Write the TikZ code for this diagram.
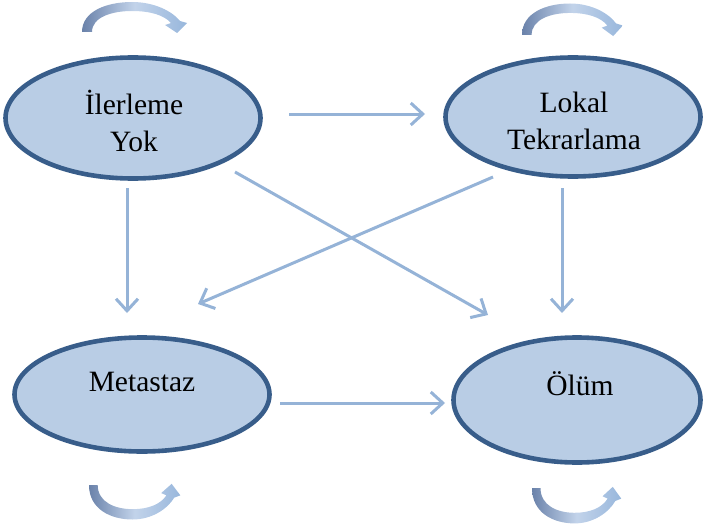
\documentclass[tikz,border=0pt]{standalone}
\usepackage{fontspec}
\setmainfont{Liberation Serif}
\usetikzlibrary{shapes.geometric,arrows.meta}
\definecolor{efill}{HTML}{B9CDE5}
\definecolor{edraw}{HTML}{385D8A}
\definecolor{arr}{HTML}{95B3D7}
\definecolor{cdark}{HTML}{6A82AA}
\definecolor{clight}{HTML}{98B7DC}
\definecolor{chigh}{HTML}{C2D3EA}
\begin{document}
\begin{tikzpicture}[x=1pt,y=-1pt,
  stnode/.style={ellipse, draw=edraw, fill=efill, line width=4.6pt, inner sep=0pt},
  lbl/.style={font=\fontsize{29.5}{37}\selectfont, align=center, inner sep=0pt},
  conn/.style={draw=arr, line width=3pt, -{Straight Barb[length=12pt,width=22pt]}},
  selfloop/.pic={
    \shade[left color=cdark, right color=clight, middle color=chigh]
      (0,0) .. controls (0,21) and (25,30) .. (50,30)
      .. controls (72,30) and (90,21) .. (98,11)
      -- (105,9) -- (95,-1) -- (83,7) -- (89,9)
      .. controls (82,17) and (68,21) .. (50,21)
      .. controls (30,21) and (10,15) .. (10,0) -- cycle;
  }
]
\useasboundingbox (0,0) rectangle (704,527);

% states
\node[stnode, minimum width=255pt, minimum height=121pt] (a) at (133,118) {};
\node[stnode, minimum width=255pt, minimum height=119pt] (b) at (573,117) {};
\node[stnode, minimum width=255pt, minimum height=114pt] (c) at (142,394.5) {};
\node[stnode, minimum width=247pt, minimum height=125pt] (d) at (577,400) {};

% labels
\node[lbl] (ta) at (134,121) {İlerleme\\Yok};
\node[lbl] (tb) at (574,121) {Lokal\\Tekrarlama};
\node[lbl] (tc) at (142,382) {Metastaz};
\node[lbl] (td) at (580,384) {Ölüm};

% connector end points
\coordinate (ab1) at (289,114);
\coordinate (ab2) at (425,114);
\coordinate (ac1) at (127,188);
\coordinate (ac2) at (127,313);
\coordinate (bd1) at (562,188);
\coordinate (bd2) at (562,313);
\coordinate (ad1) at (235,172);
\coordinate (ad2) at (488,315);
\coordinate (bc1) at (493,177);
\coordinate (bc2) at (198,304);
\coordinate (cd1) at (280,403);
\coordinate (cd2) at (445,403);

\draw[conn] (ab1) -- (ab2);
\draw[conn] (ac1) -- (ac2);
\draw[conn] (bd1) -- (bd2);
\draw[conn] (ad1) -- (ad2);
\draw[conn] (bc1) -- (bc2);
\draw[conn] (cd1) -- (cd2);

% self loops
\pic (la) [yscale=-1] at (82,32) {selfloop};
\pic (lb) [xscale=0.96, yscale=-1.05] at (522,35) {selfloop};
\pic (lc) [xscale=0.87, yscale=1.15] at (89,485) {selfloop};
\pic (ld) [xscale=0.85, yscale=1.18] at (532,488) {selfloop};
\end{tikzpicture}
\end{document}
